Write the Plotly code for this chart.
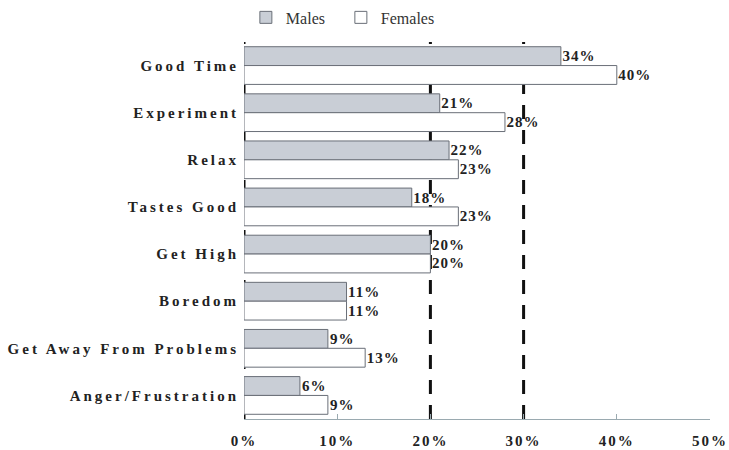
import plotly.graph_objects as go

categories = ["Good Time", "Experiment", "Relax", "Tastes Good", "Get High",
              "Boredom", "Get Away From Problems", "Anger/Frustration"]
males = [34, 21, 22, 18, 20, 11, 9, 6]
females = [40, 28, 23, 23, 20, 11, 13, 9]
x_ticks = [0, 10, 20, 30, 40, 50]
x_tick_labels = ["0%", "10%", "20%", "30%", "40%", "50%"]
ref_lines = [0, 20, 30]

font_family = "Liberation Serif, Times New Roman, serif"

fig = go.Figure()
fig.add_trace(go.Bar(
    y=categories, x=males, name="Males", orientation="h",
    marker=dict(color="#c9ced6", line=dict(color="#6a6f78", width=1)),
    text=[f"{v}%" for v in males], textposition="outside",
    textfont=dict(family=font_family, size=15, color="#222", weight="bold"),
    cliponaxis=False,
))
fig.add_trace(go.Bar(
    y=categories, x=females, name="Females", orientation="h",
    marker=dict(color="white", line=dict(color="#6a6f78", width=1)),
    text=[f"{v}%" for v in females], textposition="outside",
    textfont=dict(family=font_family, size=15, color="#222", weight="bold"),
    cliponaxis=False,
))

for v in ref_lines:
    fig.add_shape(type="line", xref="x", yref="paper", x0=v, x1=v, y0=0, y1=1,
                  line=dict(color="#111", width=3, dash="14px,11px"), layer="below")

fig.update_layout(
    width=729, height=450,
    margin=dict(l=244, r=19, t=42, b=31, autoexpand=False),
    barmode="group", bargap=0.2, bargroupgap=0,
    plot_bgcolor="white", paper_bgcolor="white",
    font=dict(family=font_family, color="#222"),
    showlegend=True,
    legend=dict(orientation="h", x=0.004, y=1.02, xanchor="left", yanchor="bottom",
                font=dict(family=font_family, size=16, color="#333"),
                itemwidth=30, traceorder="normal", entrywidth=50),
    uniformtext=dict(mode=False),
)
fig.update_xaxes(
    range=[0, 50], tickvals=x_ticks, ticktext=x_tick_labels,
    showgrid=False, zeroline=False, showline=True, linecolor="#9aaab0", linewidth=1,
    ticks="inside", ticklen=5, tickcolor="#9aaab0", ticklabelstandoff=8,
    tickfont=dict(family=font_family, size=15, color="#222", weight="bold"),
)
fig.update_yaxes(
    autorange="reversed", showgrid=False, zeroline=False, showline=False,
    ticks="", ticklabelstandoff=4,
    tickfont=dict(family=font_family, size=15, color="#222", weight="bold"),
)

post = """
document.body.style.margin = '0';
var gd = document.getElementById('{plot_id}');
function spacing() {
  gd.querySelectorAll('.ytick text').forEach(function(t){ t.style.letterSpacing = '3px'; });
  gd.querySelectorAll('.xtick text').forEach(function(t){ t.style.letterSpacing = '2px'; });
  gd.querySelectorAll('.bartext').forEach(function(t){ t.style.letterSpacing = '1px'; });
}
spacing();
gd.on('plotly_afterplot', spacing);
"""

fig.write_html("out.html", post_script=post, config={"displayModeBar": False})
